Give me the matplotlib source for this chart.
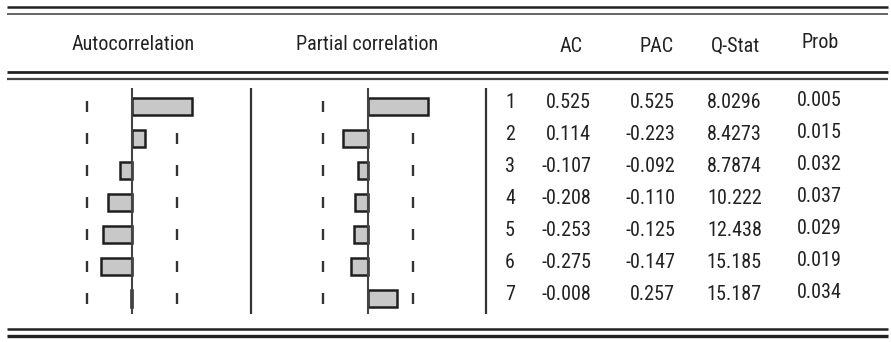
import matplotlib.pyplot as plt
from matplotlib import font_manager

lags = [1, 2, 3, 4, 5, 6, 7]
ac = [0.525, 0.114, -0.107, -0.208, -0.253, -0.275, -0.008]
pac = [0.525, -0.223, -0.092, -0.110, -0.125, -0.147, 0.257]
qstat = ['8.0296', '8.4273', '8.7874', '10.222', '12.438', '15.185', '15.187']
prob = ['0.005', '0.015', '0.032', '0.037', '0.029', '0.019', '0.034']
ac_txt = ['0.525', '0.114', '-0.107', '-0.208', '-0.253', '-0.275', '-0.008']
pac_txt = ['0.525', '-0.223', '-0.092', '-0.110', '-0.125', '-0.147', '0.257']
headers = ['AC', 'PAC', 'Q-Stat', 'Prob']
ci = 0.395

# pick a narrow font if there is one, else Roboto
names = {f.name for f in font_manager.fontManager.ttflist}
narrow = [n for n in ('Liberation Sans Narrow', 'Roboto Condensed',
                      'Open Sans Condensed', 'Noto Sans Condensed') if n in names]
if narrow:
    font = dict(family=narrow[0])
    fs = 14.5
else:
    font = dict(family='Roboto')
    fs = 14

W, H = 891, 342
fig = plt.figure(figsize=(W / 100, H / 100), dpi=100)

# background axes in pixel units, for rules and text
bg = fig.add_axes([0, 0, 1, 1])
bg.set_xlim(0, W)
bg.set_ylim(H, 0)
bg.axis('off')

ink = '#222222'
x0, x1 = 7, 888
bg.hlines(7.3, x0, x1, color=ink, lw=1.8)
bg.hlines(14, x0, x1, color='#666666', lw=1.4)
bg.hlines(72, x0, x1, color=ink, lw=2.0)
bg.hlines(79, x0, x1, color='#444444', lw=1.6)
bg.hlines(329, x0, x1, color=ink, lw=1.8)
bg.hlines(335.5, x0, x1, color=ink, lw=2.4)

bg.vlines([251, 486], 88, 314, color='#333333', lw=1.6)

bg.text(133, 45, 'Autocorrelation', ha='center', va='center', fontsize=fs, color=ink, **font)
bg.text(367, 45, 'Partial correlation', ha='center', va='center', fontsize=fs, color=ink, **font)
hx = [571, 657, 735, 820]
hy = [46, 46, 46, 42]
for x, y, h in zip(hx, hy, headers):
    bg.text(x, y, h, ha='center', va='center', fontsize=fs, color=ink, **font)

row0, step = 106.5, 32
for i, lag in enumerate(lags):
    y = row0 + step * i - 4
    bg.text(510, y, str(lag), ha='center', va='center', fontsize=fs, color=ink, **font)
    bg.text(591, y, ac_txt[i], ha='right', va='center', fontsize=fs, color=ink, **font)
    bg.text(675, y, pac_txt[i], ha='right', va='center', fontsize=fs, color=ink, **font)
    bg.text(762, y, qstat[i], ha='right', va='center', fontsize=fs, color=ink, **font)
    bg.text(842, y - 2, prob[i], ha='right', va='center', fontsize=fs, color=ink, **font)


# correlogram panels: zero line position in px, 114 px per unit
scale = 114.0
top_px, bot_px = 88, 314


def panel(zero_px, vals):
    left_px, right_px = zero_px - 100, zero_px + 100
    ax = fig.add_axes([left_px / W, 1 - bot_px / H,
                       (right_px - left_px) / W, (bot_px - top_px) / H])
    ax.set_xlim((left_px - zero_px) / scale, (right_px - zero_px) / scale)
    ax.set_ylim(1 + (bot_px - row0) / step, 1 + (top_px - row0) / step)
    ax.axis('off')
    lo = [l - 0.18 for l in lags]
    hi = [l + 0.18 for l in lags]
    for c in (-ci, ci):
        ax.vlines([c] * len(lags), lo, hi, color='#333333', lw=1.7, zorder=1)
    ax.barh(lags, vals, height=0.56, color='#c8c8c8', edgecolor='#1e1e1e',
            lw=1.8, zorder=2)
    ax.axvline(0, color='#444444', lw=1.5, zorder=3)
    return ax


panel(132, ac)
panel(368, pac)

fig.savefig('out.png', dpi=100)
